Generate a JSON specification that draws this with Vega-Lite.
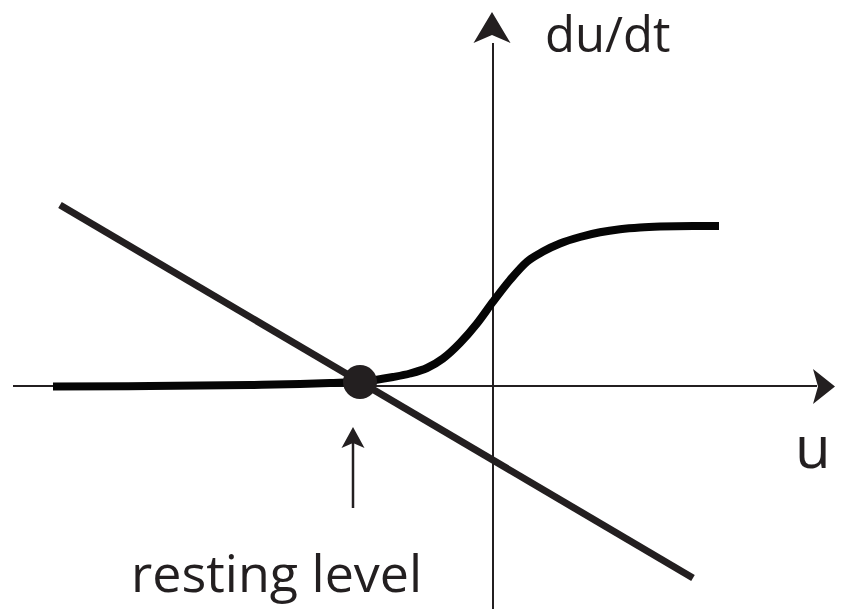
{
  "$schema": "https://vega.github.io/schema/vega-lite/v6.json",
  "width": 843,
  "height": 609,
  "padding": 0,
  "autosize": {"type": "none"},
  "background": "white",
  "config": {"view": {"stroke": null}},
  "layer": [
    {
      "data": {"values": [{"u0": -4.80, "u1": 3.24, "v": -0.01}]},
      "mark": {"type": "rule", "strokeWidth": 2, "color": "#231f20"},
      "encoding": {
        "x": {"field": "u0", "type": "quantitative", "scale": {"domain": [-4.93, 3.50], "nice": false, "zero": false}, "axis": null},
        "x2": {"field": "u1"},
        "y": {"field": "v", "type": "quantitative", "scale": {"domain": [-2.24, 3.85], "nice": false, "zero": false}, "axis": null}
      }
    },
    {
      "data": {"values": [{"u": 0, "v0": -2.40, "v1": 3.42}]},
      "mark": {"type": "rule", "strokeWidth": 2, "color": "#231f20"},
      "encoding": {
        "x": {"field": "u", "type": "quantitative", "scale": {"domain": [-4.93, 3.50], "nice": false, "zero": false}, "axis": null},
        "y": {"field": "v0", "type": "quantitative", "scale": {"domain": [-2.24, 3.85], "nice": false, "zero": false}, "axis": null},
        "y2": {"field": "v1"}
      }
    },
    {
      "data": {"values": [{"u": -1.40, "v0": -1.23, "v1": -0.56}]},
      "mark": {"type": "rule", "strokeWidth": 2.5, "color": "#231f20"},
      "encoding": {
        "x": {"field": "u", "type": "quantitative", "scale": {"domain": [-4.93, 3.50], "nice": false, "zero": false}, "axis": null},
        "y": {"field": "v0", "type": "quantitative", "scale": {"domain": [-2.24, 3.85], "nice": false, "zero": false}, "axis": null},
        "y2": {"field": "v1"}
      }
    },
    {
      "data": {"values": [{"u": -4.33, "v": 1.80}, {"u": 2.00, "v": -1.93}]},
      "mark": {"type": "line", "strokeWidth": 7, "color": "#231f20", "strokeCap": "butt"},
      "encoding": {
        "x": {"field": "u", "type": "quantitative", "scale": {"domain": [-4.93, 3.50], "nice": false, "zero": false}, "axis": null},
        "y": {"field": "v", "type": "quantitative", "scale": {"domain": [-2.24, 3.85], "nice": false, "zero": false}, "axis": null}
      }
    },
    {
      "data": {"values": [
        {"u": -4.40, "v": -0.015},
        {"u": -3.43, "v": -0.01},
        {"u": -2.43, "v": 0.0},
        {"u": -1.93, "v": 0.01},
        {"u": -1.63, "v": 0.02},
        {"u": -1.33, "v": 0.033},
        {"u": -1.00, "v": 0.08},
        {"u": -0.83, "v": 0.115},
        {"u": -0.66, "v": 0.17},
        {"u": -0.50, "v": 0.265},
        {"u": -0.33, "v": 0.42},
        {"u": -0.16, "v": 0.615},
        {"u": 0.0, "v": 0.833},
        {"u": 0.17, "v": 1.05},
        {"u": 0.34, "v": 1.233},
        {"u": 0.50, "v": 1.335},
        {"u": 0.67, "v": 1.415},
        {"u": 0.87, "v": 1.48},
        {"u": 1.07, "v": 1.527},
        {"u": 1.27, "v": 1.558},
        {"u": 1.47, "v": 1.576},
        {"u": 1.67, "v": 1.585},
        {"u": 2.00, "v": 1.59},
        {"u": 2.26, "v": 1.59}
      ]},
      "mark": {"type": "line", "strokeWidth": 8, "color": "#050505", "strokeCap": "butt", "interpolate": "monotone"},
      "encoding": {
        "x": {"field": "u", "type": "quantitative", "scale": {"domain": [-4.93, 3.50], "nice": false, "zero": false}, "axis": null},
        "y": {"field": "v", "type": "quantitative", "scale": {"domain": [-2.24, 3.85], "nice": false, "zero": false}, "axis": null}
      }
    },
    {
      "data": {"values": [{"u": -1.33, "v": 0.03}]},
      "mark": {"type": "point", "filled": true, "shape": "circle", "size": 1156, "color": "#231f20", "opacity": 1, "strokeWidth": 0},
      "encoding": {
        "x": {"field": "u", "type": "quantitative", "scale": {"domain": [-4.93, 3.50], "nice": false, "zero": false}, "axis": null},
        "y": {"field": "v", "type": "quantitative", "scale": {"domain": [-2.24, 3.85], "nice": false, "zero": false}, "axis": null}
      }
    },
    {
      "data": {"values": [{"u": -0.01, "v": 3.57}]},
      "mark": {"type": "point", "filled": true, "shape": "M0,-0.8 L0.925,0.75 L0,0.35 L-0.925,0.75 Z", "size": 1600, "color": "#231f20", "opacity": 1, "strokeWidth": 0},
      "encoding": {
        "x": {"field": "u", "type": "quantitative", "scale": {"domain": [-4.93, 3.50], "nice": false, "zero": false}, "axis": null},
        "y": {"field": "v", "type": "quantitative", "scale": {"domain": [-2.24, 3.85], "nice": false, "zero": false}, "axis": null}
      }
    },
    {
      "data": {"values": [{"u": 3.31, "v": -0.015}]},
      "mark": {"type": "point", "filled": true, "shape": "M0.55,0 L-0.55,-0.875 L-0.3,0 L-0.55,0.875 Z", "size": 1600, "color": "#231f20", "opacity": 1, "strokeWidth": 0},
      "encoding": {
        "x": {"field": "u", "type": "quantitative", "scale": {"domain": [-4.93, 3.50], "nice": false, "zero": false}, "axis": null},
        "y": {"field": "v", "type": "quantitative", "scale": {"domain": [-2.24, 3.85], "nice": false, "zero": false}, "axis": null}
      }
    },
    {
      "data": {"values": [{"u": -1.40, "v": -0.52}]},
      "mark": {"type": "point", "filled": true, "shape": "M0,-0.5 L0.575,0.55 L0,0.3 L-0.575,0.55 Z", "size": 1600, "color": "#231f20", "opacity": 1, "strokeWidth": 0},
      "encoding": {
        "x": {"field": "u", "type": "quantitative", "scale": {"domain": [-4.93, 3.50], "nice": false, "zero": false}, "axis": null},
        "y": {"field": "v", "type": "quantitative", "scale": {"domain": [-2.24, 3.85], "nice": false, "zero": false}, "axis": null}
      }
    },
    {
      "data": {"values": [{"label": "du/dt", "u": 0.52, "v": 3.33}]},
      "mark": {"type": "text", "font": "Open Sans", "fontSize": 49, "align": "left", "baseline": "alphabetic", "color": "#231f20"},
      "encoding": {
        "x": {"field": "u", "type": "quantitative", "scale": {"domain": [-4.93, 3.50], "nice": false, "zero": false}, "axis": null},
        "y": {"field": "v", "type": "quantitative", "scale": {"domain": [-2.24, 3.85], "nice": false, "zero": false}, "axis": null},
        "text": {"field": "label"}
      }
    },
    {
      "data": {"values": [{"label": "u", "u": 3.02, "v": -0.83}]},
      "mark": {"type": "text", "font": "Open Sans", "fontSize": 58, "align": "left", "baseline": "alphabetic", "color": "#231f20"},
      "encoding": {
        "x": {"field": "u", "type": "quantitative", "scale": {"domain": [-4.93, 3.50], "nice": false, "zero": false}, "axis": null},
        "y": {"field": "v", "type": "quantitative", "scale": {"domain": [-2.24, 3.85], "nice": false, "zero": false}, "axis": null},
        "text": {"field": "label"}
      }
    },
    {
      "data": {"values": [{"label": "resting level", "u": -3.62, "v": -2.07}]},
      "mark": {"type": "text", "font": "Open Sans", "fontSize": 52, "align": "left", "baseline": "alphabetic", "color": "#231f20"},
      "encoding": {
        "x": {"field": "u", "type": "quantitative", "scale": {"domain": [-4.93, 3.50], "nice": false, "zero": false}, "axis": null},
        "y": {"field": "v", "type": "quantitative", "scale": {"domain": [-2.24, 3.85], "nice": false, "zero": false}, "axis": null},
        "text": {"field": "label"}
      }
    }
  ]
}
